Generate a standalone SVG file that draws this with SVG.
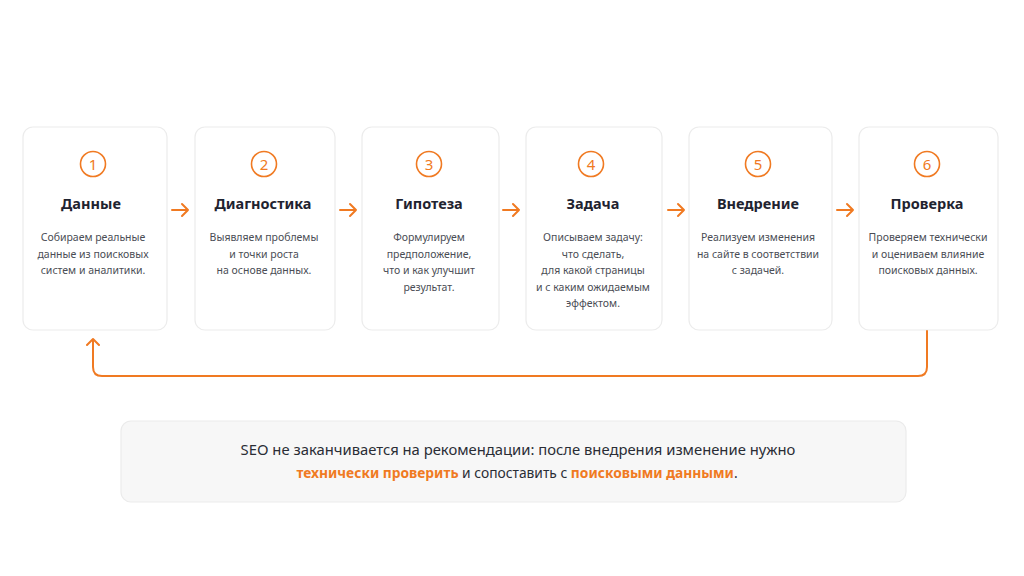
<svg xmlns="http://www.w3.org/2000/svg" width="1024" height="576" viewBox="0 0 1024 576">
<style>
.card{fill:#ffffff;stroke:#ececec;stroke-width:1.2}
.num{fill:none;stroke:#f07a22;stroke-width:1.6}
.numt{font-family:"Noto Sans",sans-serif;font-size:15px;fill:#f07a22;text-anchor:middle}
.title{font-family:"Noto Sans",sans-serif;font-size:14.5px;font-weight:bold;fill:#1f2330;text-anchor:middle}
.desc{font-family:"Noto Sans",sans-serif;font-size:10.5px;fill:#4a4d55;text-anchor:middle}
.arr{fill:none;stroke:#f07a22;stroke-width:2;stroke-linecap:round;stroke-linejoin:round}
.note{font-family:"Noto Sans",sans-serif;font-size:14.8px;fill:#2a2d35;text-anchor:middle}
.hl{fill:#f07a22;font-weight:bold}
</style>
<rect width="1024" height="576" fill="#ffffff"/>
<g id="node1">
<rect class="card" x="23" y="127" width="144" height="203" rx="10"/>
<circle class="num" cx="93" cy="164" r="12.5"/>
<text class="numt" x="93" y="169.5">1</text>
<text class="title" x="91" y="209">Данные</text>
<text class="desc" x="93" y="241">Собираем реальные</text>
<text class="desc" x="93" y="258">данные из поисковых</text>
<text class="desc" x="93" y="274">систем и аналитики.</text>
</g>
<g id="node2">
<rect class="card" x="195" y="127" width="140" height="203" rx="10"/>
<circle class="num" cx="264" cy="164" r="12.5"/>
<text class="numt" x="264" y="169.5">2</text>
<text class="title" x="263" y="209">Диагностика</text>
<text class="desc" x="264" y="241">Выявляем проблемы</text>
<text class="desc" x="264" y="258">и точки роста</text>
<text class="desc" x="264" y="274">на основе данных.</text>
</g>
<g id="node3">
<rect class="card" x="362" y="127" width="137" height="203" rx="10"/>
<circle class="num" cx="429" cy="164" r="12.5"/>
<text class="numt" x="429" y="169.5">3</text>
<text class="title" x="429" y="209">Гипотеза</text>
<text class="desc" x="429" y="241">Формулируем</text>
<text class="desc" x="429" y="258">предположение,</text>
<text class="desc" x="429" y="274">что и как улучшит</text>
<text class="desc" x="429" y="291">результат.</text>
</g>
<g id="node4">
<rect class="card" x="526" y="127" width="136" height="203" rx="10"/>
<circle class="num" cx="591" cy="164" r="12.5"/>
<text class="numt" x="591" y="169.5">4</text>
<text class="title" x="593" y="209">Задача</text>
<text class="desc" x="593" y="241">Описываем задачу:</text>
<text class="desc" x="593" y="258">что сделать,</text>
<text class="desc" x="593" y="274">для какой страницы</text>
<text class="desc" x="593" y="291">и с каким ожидаемым</text>
<text class="desc" x="593" y="307">эффектом.</text>
</g>
<g id="node5">
<rect class="card" x="689" y="127" width="143" height="203" rx="10"/>
<circle class="num" cx="758" cy="164" r="12.5"/>
<text class="numt" x="758" y="169.5">5</text>
<text class="title" x="758" y="209">Внедрение</text>
<text class="desc" x="758" y="241">Реализуем изменения</text>
<text class="desc" x="758" y="258">на сайте в соответствии</text>
<text class="desc" x="758" y="274">с задачей.</text>
</g>
<g id="node6">
<rect class="card" x="859" y="127" width="139" height="203" rx="10"/>
<circle class="num" cx="927" cy="164" r="12.5"/>
<text class="numt" x="927" y="169.5">6</text>
<text class="title" x="927" y="209">Проверка</text>
<text class="desc" x="928" y="241">Проверяем технически</text>
<text class="desc" x="928" y="258">и оцениваем влияние</text>
<text class="desc" x="928" y="274">поисковых данных.</text>
</g>
<g id="connectors">
<path class="arr" d="M172 210H188M182 204L188 210L182 216"/>
<path class="arr" d="M340 210H356M350 204L356 210L350 216"/>
<path class="arr" d="M503 210H519M513 204L519 210L513 216"/>
<path class="arr" d="M668 210H684M678 204L684 210L678 216"/>
<path class="arr" d="M837 210H853M847 204L853 210L847 216"/>
<path class="arr" d="M927 331V367Q927 376 918 376H102Q93 376 93 367V339M87 345L93 339L99 345" stroke-width="2.4"/>
</g>
<g id="note">
<rect x="121" y="421" width="785" height="81" rx="10" fill="#f7f7f7" stroke="#ebebeb" stroke-width="1.2"/>
<text class="note" x="518" y="455">SEO не заканчивается на рекомендации: после внедрения изменение нужно</text>
<text class="note" x="517" y="478" style="font-size:13.8px"><tspan class="hl">технически проверить</tspan> и сопоставить с <tspan class="hl">поисковыми данными</tspan>.</text>
</g>
</svg>
